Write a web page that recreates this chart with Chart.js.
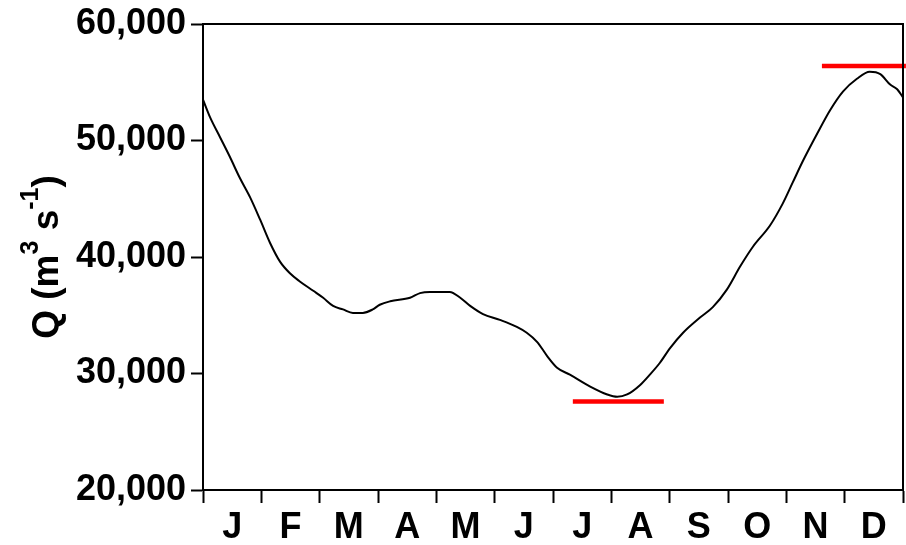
<!DOCTYPE html>
<html>
<head>
<meta charset="utf-8">
<script src="https://cdn.jsdelivr.net/npm/chart.js@4/dist/chart.umd.min.js"></script>
<style>
  html, body { margin: 0; padding: 0; background: #fff; }
  #wrap { width: 906px; height: 545px; }
</style>
</head>
<body>
<div id="wrap"><canvas id="c" width="906" height="545"></canvas></div>
<script>
// Month initials, centred between the month boundary ticks
const monthLabels = ['J', 'F', 'M', 'A', 'M', 'J', 'J', 'A', 'S', 'O', 'N', 'D'];
const yTickValues = [20000, 30000, 40000, 50000, 60000];

// Position along the year in months (0 = 1 January, 12 = 31 December)
const timeMonths = [
  0.00, 0.12, 0.29, 0.46, 0.63, 0.81, 0.98, 1.15, 1.32, 1.49, 1.66, 1.89,
  2.06, 2.23, 2.40, 2.57, 2.74, 2.91, 3.03, 3.21, 3.55, 3.72, 3.89, 4.23,
  4.41, 4.58, 4.80, 5.09, 5.38, 5.55, 5.73, 5.90, 6.07, 6.29, 6.63, 6.93,
  7.10, 7.27, 7.49, 7.66, 7.83, 8.01, 8.23, 8.52, 8.74, 8.98, 9.21, 9.43,
  9.72, 9.94, 10.11, 10.29, 10.53, 10.75, 10.97, 11.21, 11.43, 11.61, 11.78, 11.90,
  12.00
];
// Mean daily discharge Q (m3 s-1)
const discharge = [
  53500, 52000, 50300, 48600, 46800, 45100, 43200, 41200, 39600, 38600, 37900, 37100,
  36500, 35800, 35500, 35200, 35200, 35500, 35900, 36200, 36500, 36900, 37000, 37000,
  36500, 35800, 35100, 34600, 34000, 33500, 32700, 31500, 30500, 29900, 28900, 28200,
  28000, 28200, 29000, 29900, 30900, 32200, 33500, 34800, 35700, 37200, 39200, 40900,
  42700, 44600, 46400, 48300, 50600, 52600, 54200, 55300, 55900, 55700, 54800, 54400,
  53700
];

// Low-water and high-water reference levels
const lowFlowSpan = [6.34, 7.90];
const lowFlowLevel = 27600;
const highFlowSpan = [10.61, 12.05];
const highFlowLevel = 56400;

const FONT = "'Liberation Sans', Arial, Helvetica, sans-serif";

// Closes the plot box with top and right edges
const frame = {
  id: 'frame',
  afterDraw(chart) {
    const { ctx, chartArea: a } = chart;
    ctx.save();
    ctx.strokeStyle = '#000';
    ctx.lineWidth = 2;
    ctx.beginPath();
    ctx.moveTo(a.left, a.top);
    ctx.lineTo(a.right, a.top);
    ctx.lineTo(a.right, a.bottom);
    ctx.stroke();
    ctx.restore();
  }
};

// Vertical axis title with superscript units
const yTitle = {
  id: 'yTitle',
  afterDraw(chart) {
    const { ctx, chartArea: a } = chart;
    const parts = [
      { t: 'Q (m', sup: false },
      { t: '3', sup: true },
      { t: ' s', sup: false },
      { t: '-1', sup: true },
      { t: ')', sup: false }
    ];
    const big = 'bold 37px ' + FONT;
    const small = 'bold 25px ' + FONT;
    ctx.save();
    let total = 0;
    for (const p of parts) {
      ctx.font = p.sup ? small : big;
      p.w = ctx.measureText(p.t).width;
      total += p.w;
    }
    const cx = 45;
    const cy = (a.top + a.bottom) / 2;
    ctx.translate(cx, cy);
    ctx.rotate(-Math.PI / 2);
    ctx.fillStyle = '#000';
    ctx.textBaseline = 'alphabetic';
    let x = -total / 2;
    const base = 13;
    for (const p of parts) {
      ctx.font = p.sup ? small : big;
      ctx.fillText(p.t, x, p.sup ? base - 20 : base);
      x += p.w;
    }
    ctx.restore();
  }
};

const lineData = timeMonths.map((m, i) => ({ x: m, y: discharge[i] }));

new Chart(document.getElementById('c'), {
  type: 'line',
  data: {
    datasets: [
      {
        data: lineData,
        borderColor: '#000',
        borderWidth: 2,
        pointRadius: 0,
        cubicInterpolationMode: 'monotone',
        fill: false
      },
      {
        data: lowFlowSpan.map(m => ({ x: m, y: lowFlowLevel })),
        borderColor: '#ff0000',
        borderWidth: 4.5,
        pointRadius: 0,
        clip: false
      },
      {
        data: highFlowSpan.map(m => ({ x: m, y: highFlowLevel })),
        borderColor: '#ff0000',
        borderWidth: 4.5,
        pointRadius: 0,
        clip: false
      }
    ]
  },
  options: {
    responsive: false,
    devicePixelRatio: 1,
    animation: false,
    layout: { padding: { top: 24, right: 3, left: 0, bottom: 0 } },
    plugins: { legend: { display: false }, tooltip: { enabled: false } },
    scales: {
      x: {
        type: 'linear',
        min: 0,
        max: 12,
        afterBuildTicks(s) {
          const t = [];
          for (let i = 0; i <= 24; i++) t.push({ value: i / 2 });
          s.ticks = t;
        },
        afterFit(s) {
          s.height = 55;
          s.paddingLeft = 0;
          s.paddingRight = 0;
        },
        ticks: {
          autoSkip: false,
          maxRotation: 0,
          minRotation: 0,
          color: '#000',
          padding: 3,
          font: { family: FONT, size: 36, weight: 'bold' },
          callback: (v) => Number.isInteger(v) ? '' : monthLabels[Math.floor(v)]
        },
        grid: {
          drawOnChartArea: false,
          tickLength: 13,
          tickWidth: 2,
          tickColor: (c) => (c.tick && Number.isInteger(c.tick.value)) ? '#000' : 'rgba(0,0,0,0)'
        },
        border: { color: '#000', width: 2 }
      },
      y: {
        type: 'linear',
        min: 20000,
        max: 60000,
        afterBuildTicks(s) { s.ticks = yTickValues.map(v => ({ value: v })); },
        afterFit(s) {
          s.width = 203;
          s.paddingTop = 0;
          s.paddingBottom = 0;
        },
        ticks: {
          color: '#000',
          padding: 5,
          font: { family: FONT, size: 36, weight: 'bold' },
          callback: (v) => v.toLocaleString('en-US')
        },
        grid: {
          drawOnChartArea: false,
          tickLength: 12,
          tickWidth: 2,
          tickColor: '#000'
        },
        border: { color: '#000', width: 2 }
      }
    }
  },
  plugins: [frame, yTitle]
});
</script>
</body>
</html>
